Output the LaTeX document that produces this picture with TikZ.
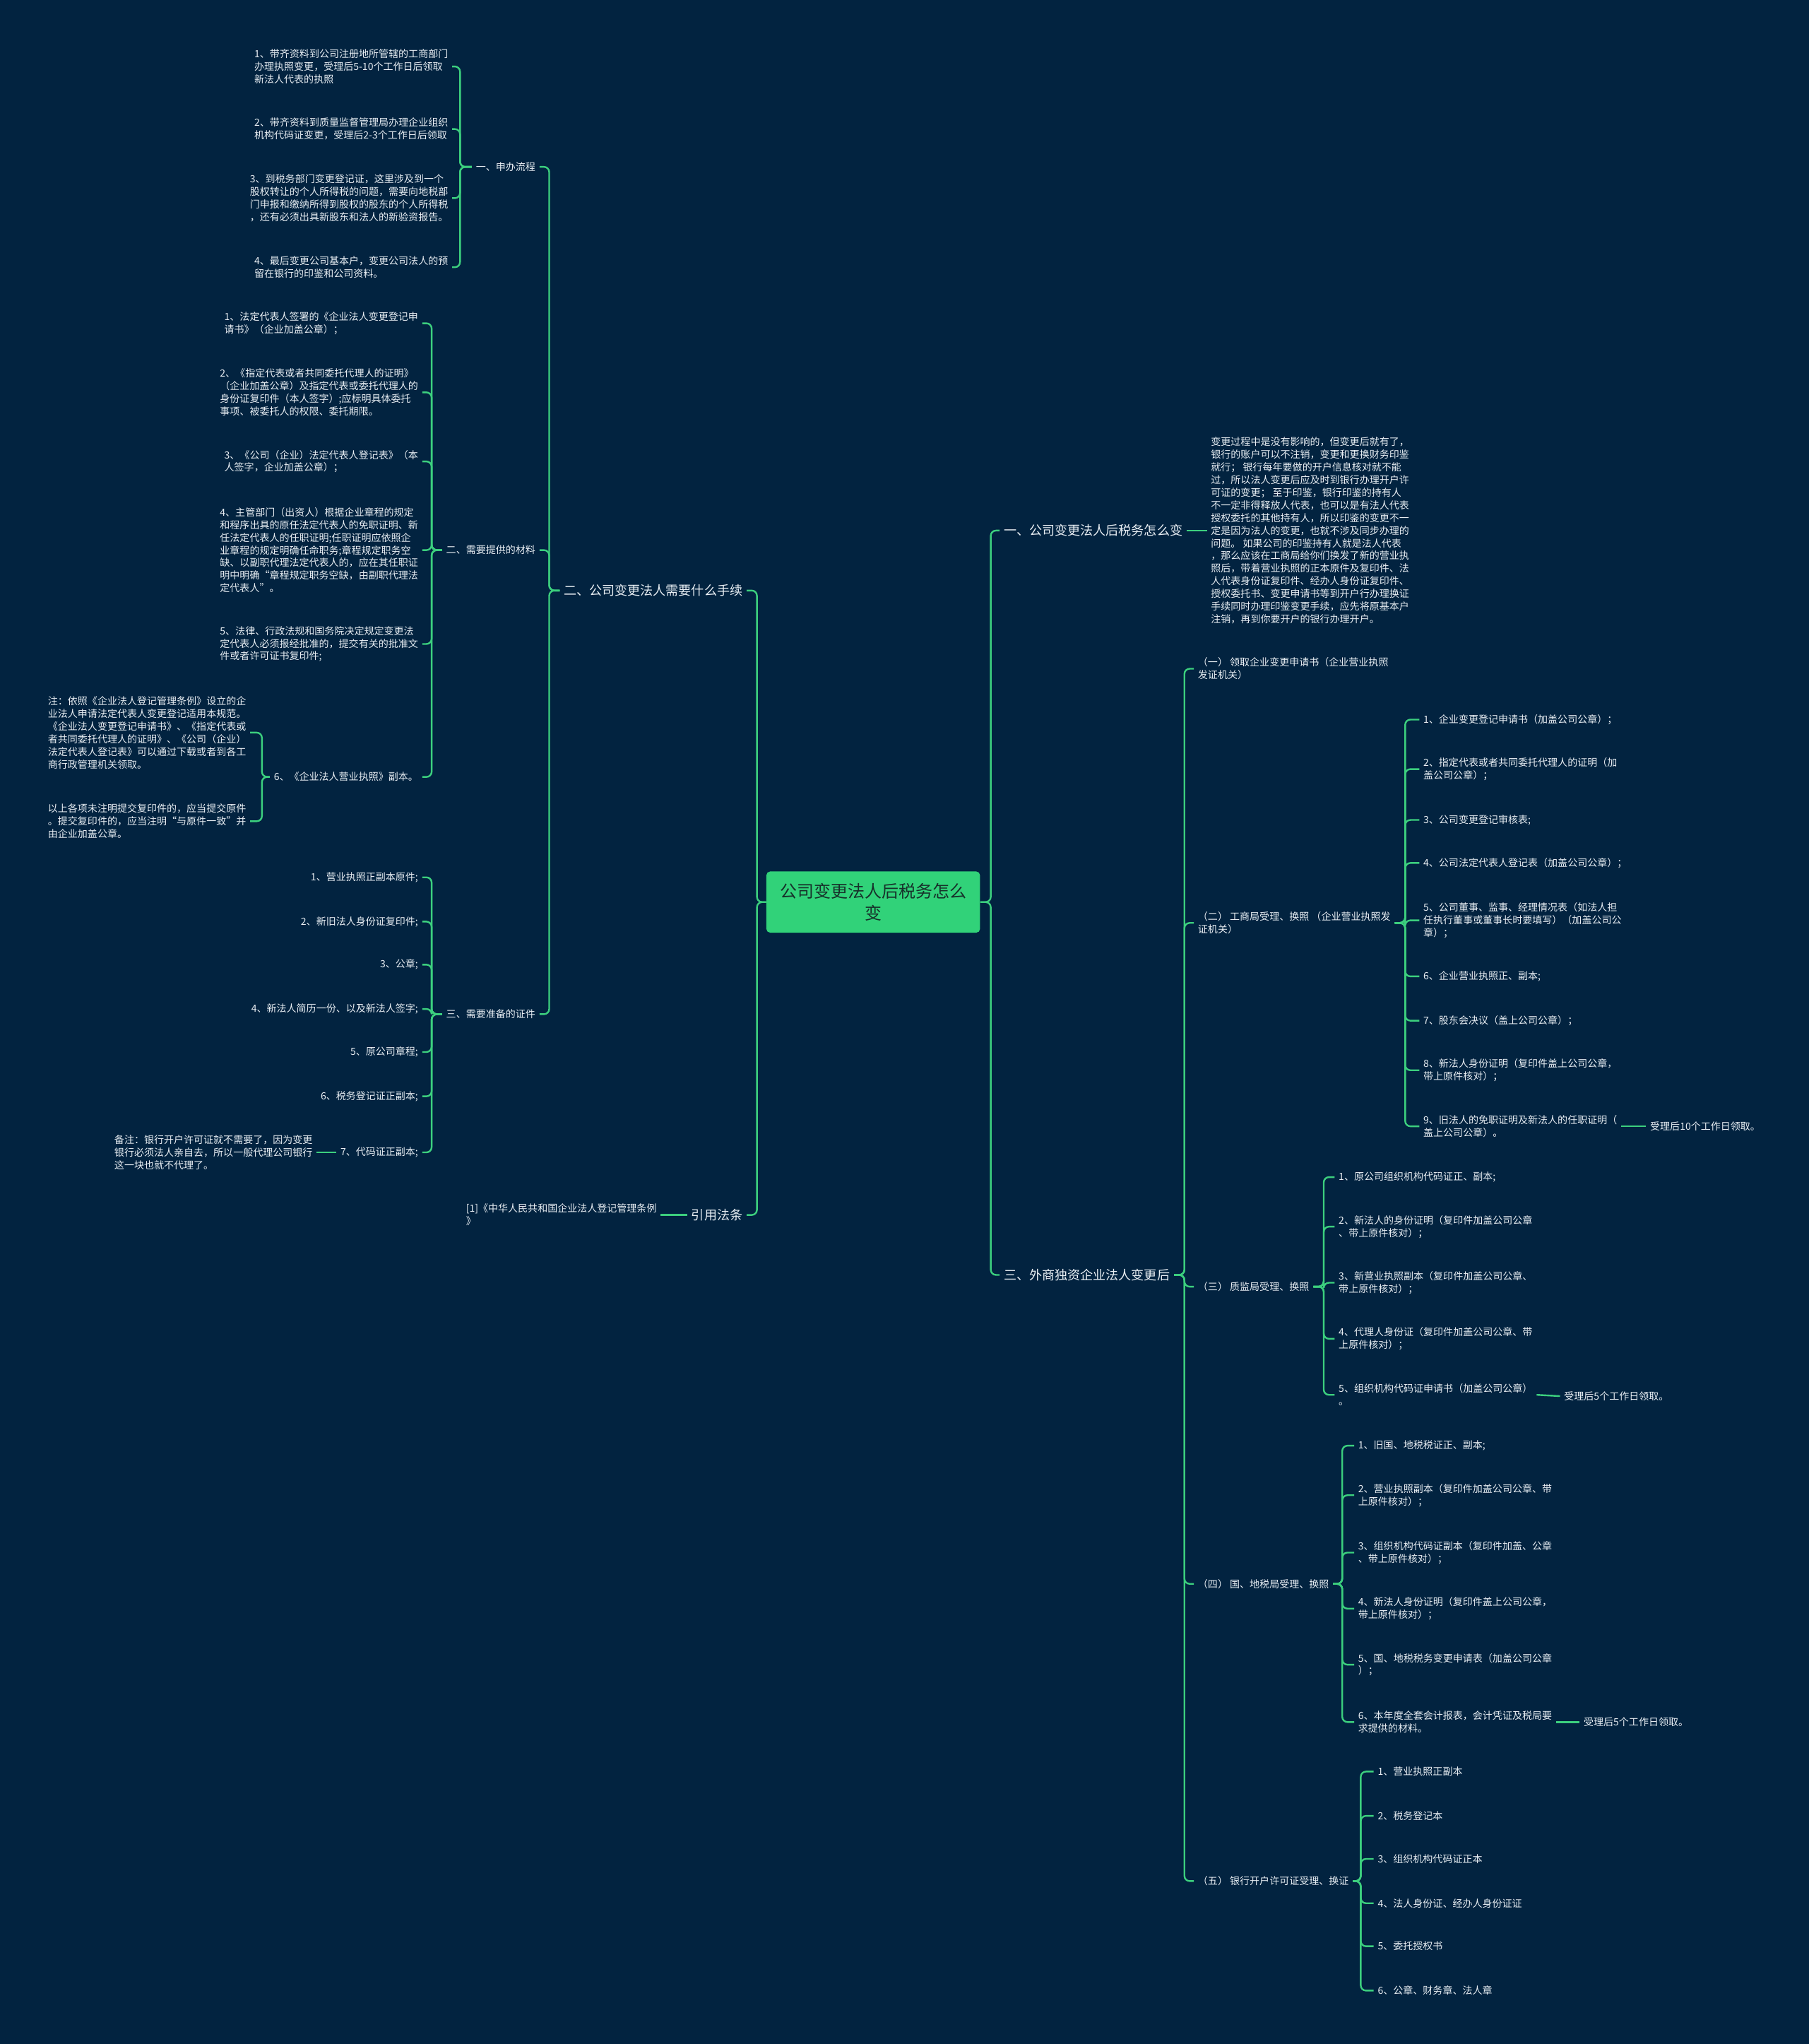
\documentclass[tikz,border=0pt]{standalone}
\usepackage{fontspec}
\setmainfont{Noto Sans CJK SC}
\definecolor{bg}{HTML}{022340}
\definecolor{lc}{HTML}{3CCF7E}
\definecolor{fg}{HTML}{E8EEF3}
\definecolor{rootfill}{HTML}{31D279}
\definecolor{roottext}{HTML}{17302A}
\tikzset{
  txt/.style={text=fg, font=\fontsize{7.6}{9.7}\selectfont, align=left, inner xsep=3pt, inner ysep=1pt},
  big/.style={text=fg, font=\fontsize{9.8}{12}\selectfont, inner xsep=3pt, inner ysep=1pt},
  rootbox/.style={fill=rootfill, text=roottext, rounded corners=3pt, minimum width=164pt, minimum height=47pt, align=center, font=\fontsize{13}{17}\selectfont, inner sep=2pt},
  conn/.style={draw=lc, line width=1.3pt, rounded corners=4pt},
}
\begin{document}
\begin{tikzpicture}[x=1pt,y=-1pt]
\fill[bg] (0,0) rectangle (1388,1568);
\useasboundingbox (0,0) rectangle (1388,1568);

% root
\node[rootbox] (root) at (670,692) {公司变更法人后税务怎么\\变};

% ---------------- left side ----------------
\node[big, anchor=east] (L1) at (573,453) {二、公司变更法人需要什么手续};
\node[big, anchor=east] (L2) at (573,932) {引用法条};

\node[txt, anchor=east] (A) at (414,128) {一、申办流程};
\node[txt, anchor=east] (B) at (414,422) {二、需要提供的材料};
\node[txt, anchor=east] (C) at (414,778) {三、需要准备的证件};

\node[txt, anchor=east] (A1) at (347,51) {1、带齐资料到公司注册地所管辖的工商部门\\办理执照变更，受理后5-10个工作日后领取\\新法人代表的执照};
\node[txt, anchor=east] (A2) at (347,99) {2、带齐资料到质量监督管理局办理企业组织\\机构代码证变更，受理后2-3个工作日后领取};
\node[txt, anchor=east] (A3) at (347,152) {3、到税务部门变更登记证，这里涉及到一个\\股权转让的个人所得税的问题，需要向地税部\\门申报和缴纳所得到股权的股东的个人所得税\\，还有必须出具新股东和法人的新验资报告。};
\node[txt, anchor=east] (A4) at (347,205) {4、最后变更公司基本户，变更公司法人的预\\留在银行的印鉴和公司资料。};

\node[txt, anchor=east] (B1) at (324,248) {1、法定代表人签署的《企业法人变更登记申\\请书》（企业加盖公章）；};
\node[txt, anchor=east] (B2) at (324,301) {2、《指定代表或者共同委托代理人的证明》\\（企业加盖公章）及指定代表或委托代理人的\\身份证复印件（本人签字）;应标明具体委托\\事项、被委托人的权限、委托期限。};
\node[txt, anchor=east] (B3) at (324,354) {3、《公司（企业）法定代表人登记表》（本\\人签字，企业加盖公章）；};
\node[txt, anchor=east] (B4) at (324,422) {4、主管部门（出资人）根据企业章程的规定\\和程序出具的原任法定代表人的免职证明、新\\任法定代表人的任职证明;任职证明应依照企\\业章程的规定明确任命职务;章程规定职务空\\缺、以副职代理法定代表人的，应在其任职证\\明中明确“章程规定职务空缺，由副职代理法\\定代表人”。};
\node[txt, anchor=east] (B5) at (324,494) {5、法律、行政法规和国务院决定规定变更法\\定代表人必须报经批准的，提交有关的批准文\\件或者许可证书复印件;};
\node[txt, anchor=east] (B6) at (324,596) {6、《企业法人营业执照》副本。};

\node[txt, anchor=east] (N1) at (192,562) {注：依照《企业法人登记管理条例》设立的企\\业法人申请法定代表人变更登记适用本规范。\\《企业法人变更登记申请书》、《指定代表或\\者共同委托代理人的证明》、《公司（企业）\\法定代表人登记表》可以通过下载或者到各工\\商行政管理机关领取。};
\node[txt, anchor=east] (N2) at (192,630) {以上各项未注明提交复印件的，应当提交原件\\。提交复印件的，应当注明“与原件一致”并\\由企业加盖公章。};

\node[txt, anchor=east] (C1) at (324,673) {1、营业执照正副本原件;};
\node[txt, anchor=east] (C2) at (324,707) {2、新旧法人身份证复印件;};
\node[txt, anchor=east] (C3) at (324,740) {3、公章;};
\node[txt, anchor=east] (C4) at (324,774) {4、新法人简历一份、以及新法人签字;};
\node[txt, anchor=east] (C5) at (324,807) {5、原公司章程;};
\node[txt, anchor=east] (C6) at (324,841) {6、税务登记证正副本;};
\node[txt, anchor=east] (C7) at (324,884) {7、代码证正副本;};
\node[txt, anchor=east] (C7n) at (243,884) {备注：银行开户许可证就不需要了，因为变更\\银行必须法人亲自去，所以一般代理公司银行\\这一块也就不代理了。};

\node[txt, anchor=east] (Ref) at (507,932) {[1]《中华人民共和国企业法人登记管理条例\\》};

% ---------------- right side ----------------
\node[big, anchor=west] (R1) at (767,407) {一、公司变更法人后税务怎么变};
\node[big, anchor=west] (R3) at (767,978) {三、外商独资企业法人变更后};

\node[txt, anchor=west] (P) at (926,407) {变更过程中是没有影响的，但变更后就有了，\\银行的账户可以不注销，变更和更换财务印鉴\\就行；  银行每年要做的开户信息核对就不能\\过，所以法人变更后应及时到银行办理开户许\\可证的变更；  至于印鉴，银行印鉴的持有人\\不一定非得释放人代表，也可以是有法人代表\\授权委托的其他持有人，所以印鉴的变更不一\\定是因为法人的变更，也就不涉及同步办理的\\问题。  如果公司的印鉴持有人就是法人代表\\，那么应该在工商局给你们换发了新的营业执\\照后，带着营业执照的正本原件及复印件、法\\人代表身份证复印件、经办人身份证复印件、\\授权委托书、变更申请书等到开户行办理换证\\手续同时办理印鉴变更手续，应先将原基本户\\注销，再到你要开户的银行办理开户。};

\node[txt, anchor=west] (S1) at (916,513) {（一） 领取企业变更申请书（企业营业执照\\发证机关）};
\node[txt, anchor=west] (S2) at (916,708) {（二） 工商局受理、换照 （企业营业执照发\\证机关）};
\node[txt, anchor=west] (S3) at (916,987) {（三） 质监局受理、换照};
\node[txt, anchor=west] (S4) at (916,1215) {（四） 国、地税局受理、换照};
\node[txt, anchor=west] (S5) at (916,1443) {（五） 银行开户许可证受理、换证};

\node[txt, anchor=west] (T1) at (1089,552) {1、企业变更登记申请书（加盖公司公章）；};
\node[txt, anchor=west] (T2) at (1089,590) {2、指定代表或者共同委托代理人的证明（加\\盖公司公章）；};
\node[txt, anchor=west] (T3) at (1089,629) {3、公司变更登记审核表;};
\node[txt, anchor=west] (T4) at (1089,662) {4、公司法定代表人登记表（加盖公司公章）；};
\node[txt, anchor=west] (T5) at (1089,706) {5、公司董事、监事、经理情况表（如法人担\\任执行董事或董事长时要填写）（加盖公司公\\章）；};
\node[txt, anchor=west] (T6) at (1089,749) {6、企业营业执照正、副本;};
\node[txt, anchor=west] (T7) at (1089,783) {7、股东会决议（盖上公司公章）；};
\node[txt, anchor=west] (T8) at (1089,821) {8、新法人身份证明（复印件盖上公司公章，\\带上原件核对）；};
\node[txt, anchor=west] (T9) at (1089,864) {9、旧法人的免职证明及新法人的任职证明（\\盖上公司公章）。};
\node[txt, anchor=west] (T9n) at (1263,864) {受理后10个工作日领取。};

\node[txt, anchor=west] (U1) at (1024,903) {1、原公司组织机构代码证正、副本;};
\node[txt, anchor=west] (U2) at (1024,941) {2、新法人的身份证明（复印件加盖公司公章\\、带上原件核对）；};
\node[txt, anchor=west] (U3) at (1024,984) {3、新营业执照副本（复印件加盖公司公章、\\带上原件核对）；};
\node[txt, anchor=west] (U4) at (1024,1027) {4、代理人身份证（复印件加盖公司公章、带\\上原件核对）；};
\node[txt, anchor=west] (U5) at (1024,1070) {5、组织机构代码证申请书（加盖公司公章）\\。};
\node[txt, anchor=west] (U5n) at (1197,1071) {受理后5个工作日领取。};

\node[txt, anchor=west] (V1) at (1039,1109) {1、旧国、地税税证正、副本;};
\node[txt, anchor=west] (V2) at (1039,1147) {2、营业执照副本（复印件加盖公司公章、带\\上原件核对）；};
\node[txt, anchor=west] (V3) at (1039,1191) {3、组织机构代码证副本（复印件加盖、公章\\、带上原件核对）；};
\node[txt, anchor=west] (V4) at (1039,1234) {4、新法人身份证明（复印件盖上公司公章，\\带上原件核对）；};
\node[txt, anchor=west] (V5) at (1039,1277) {5、国、地税税务变更申请表（加盖公司公章\\）；};
\node[txt, anchor=west] (V6) at (1039,1321) {6、本年度全套会计报表，会计凭证及税局要\\求提供的材料。};
\node[txt, anchor=west] (V6n) at (1212,1321) {受理后5个工作日领取。};

\node[txt, anchor=west] (W1) at (1054,1359) {1、营业执照正副本};
\node[txt, anchor=west] (W2) at (1054,1393) {2、税务登记本};
\node[txt, anchor=west] (W3) at (1054,1426) {3、组织机构代码证正本};
\node[txt, anchor=west] (W4) at (1054,1460) {4、法人身份证、经办人身份证证};
\node[txt, anchor=west] (W5) at (1054,1493) {5、委托授权书};
\node[txt, anchor=west] (W6) at (1054,1527) {6、公章、财务章、法人章};

% ---------------- connectors ----------------
\foreach \c in {L1,L2} \draw[conn] (root.west) -- ++(-7,0) |- (\c.east);
\foreach \c in {R1,R3} \draw[conn] (root.east) -- ++(8,0) |- (\c.west);

\foreach \c in {A,B,C} \draw[conn] (L1.west) -- ++(-8,0) |- (\c.east);
\foreach \c in {A1,A2,A3,A4} \draw[conn] (A.west) -- ++(-9,0) |- (\c.east);
\foreach \c in {B1,B2,B3,B4,B5,B6} \draw[conn] (B.west) -- ++(-8,0) |- (\c.east);
\foreach \c in {N1,N2} \draw[conn] (B6.west) -- ++(-6,0) |- (\c.east);
\foreach \c in {C1,C2,C3,C4,C5,C6,C7} \draw[conn] (C.west) -- ++(-8,0) |- (\c.east);
\draw[conn] (C7.west) -- (C7n.east);
\draw[conn] (L2.west) -- (Ref.east);

\draw[conn] (R1.east) -- (P.west);
\foreach \c in {S1,S2,S3,S4,S5} \draw[conn] (R3.east) -- ++(8,0) |- (\c.west);
\foreach \c in {T1,T2,T3,T4,T5,T6,T7,T8,T9} \draw[conn] (S2.east) -- ++(8,0) |- (\c.west);
\draw[conn] (T9.east) -- (T9n.west);
\foreach \c in {U1,U2,U3,U4,U5} \draw[conn] (S3.east) -- ++(8,0) |- (\c.west);
\draw[conn] (U5.east) -- (U5n.west);
\foreach \c in {V1,V2,V3,V4,V5,V6} \draw[conn] (S4.east) -- ++(7,0) |- (\c.west);
\draw[conn] (V6.east) -- (V6n.west);
\foreach \c in {W1,W2,W3,W4,W5,W6} \draw[conn] (S5.east) -- ++(6,0) |- (\c.west);
\end{tikzpicture}
\end{document}
